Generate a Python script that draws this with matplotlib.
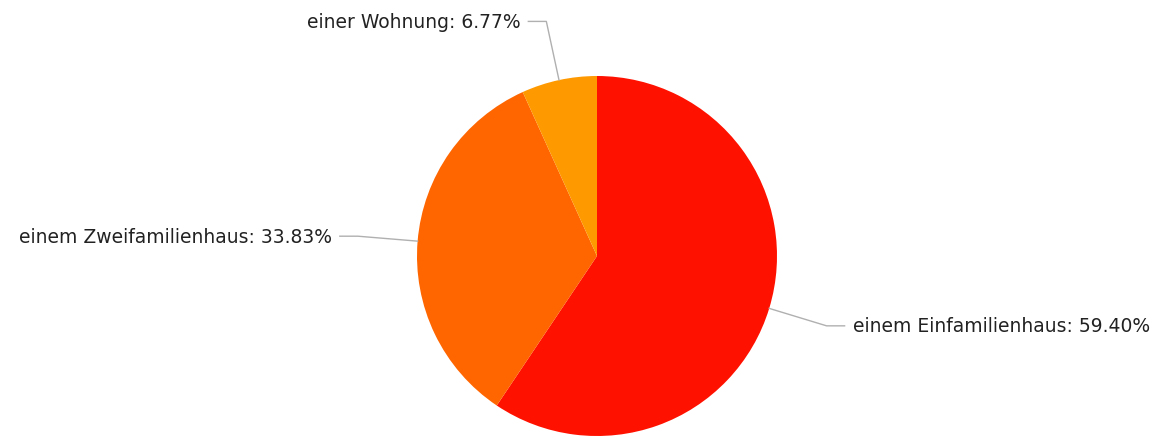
import numpy as np
import matplotlib
matplotlib.use("Agg")
import matplotlib.pyplot as plt

# Daten
kategorien = ["einem Einfamilienhaus", "einem Zweifamilienhaus", "einer Wohnung"]
anteile = [59.40, 33.83, 6.77]
farben = ["#ff1100", "#ff6600", "#ff9900"]

W, H = 1160, 439
fig = plt.figure(figsize=(W / 100, H / 100), dpi=100)
ax = fig.add_axes([0, 0, 1, 1])

# Kreis (Pixelkoordinaten, y nach oben)
cx, cy, r = 597, H - 257, 180
wedges, _ = ax.pie(anteile, colors=farben, startangle=90, counterclock=False,
                   center=(cx, cy), radius=r, frame=True,
                   wedgeprops=dict(linewidth=0))
ax.set_xlim(0, W)
ax.set_ylim(0, H)
ax.set_aspect("equal")
ax.axis("off")

# Beschriftungen mit Fuehrungslinien
for w, name, p in zip(wedges, kategorien, anteile):
    ang = np.deg2rad((w.theta1 + w.theta2) / 2)
    dx, dy = np.cos(ang), np.sin(ang)
    x0, y0 = cx + r * dx, cy + r * dy
    x1, y1 = cx + (r + 60) * dx, cy + (r + 60) * dy
    s = 1 if dx > 0 else -1
    x2 = x1 + s * 18
    ax.plot([x0, x1, x2], [y0, y1, y1], color="#b0b0b0", lw=1)
    ax.text(x2 + s * 8, y1, "%s: %.2f%%" % (name, p),
            ha="left" if s > 0 else "right", va="center",
            fontsize=13.5, color="#222222", family="DejaVu Sans")

fig.savefig("out.png", dpi=100)
